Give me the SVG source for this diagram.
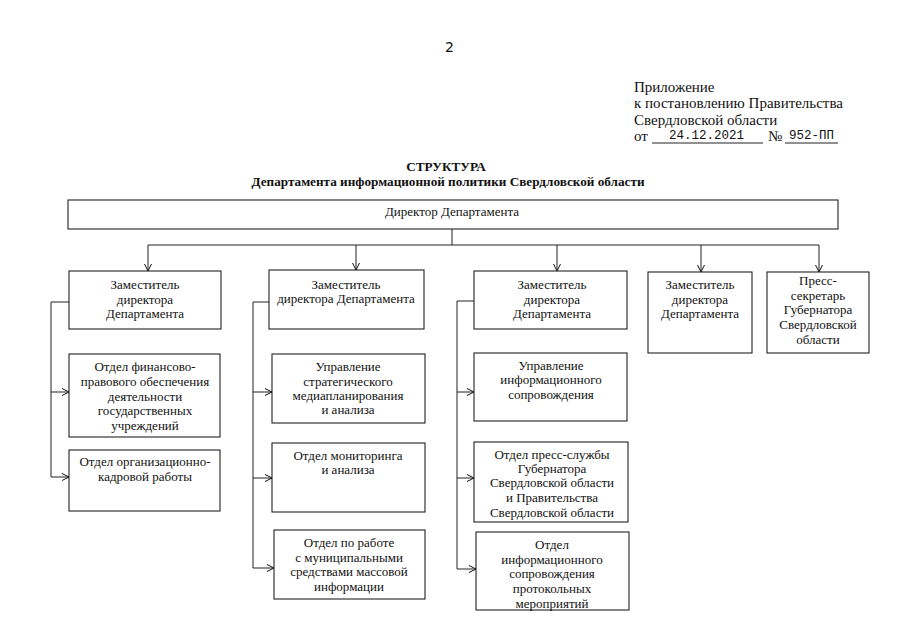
<svg xmlns="http://www.w3.org/2000/svg" width="905" height="640" viewBox="0 0 905 640">
<defs>
<marker id="arr" viewBox="0 0 8 8" refX="7.5" refY="4" markerWidth="8" markerHeight="8" markerUnits="userSpaceOnUse" orient="auto">
<path d="M0.5,0.5 L7.5,4 L0.5,7.5" fill="none" stroke="#111" stroke-width="1"/>
</marker>
<style>
.box{fill:#fff;stroke:#222;stroke-width:1.1}
.t{font-family:"Liberation Serif","Times New Roman",serif;font-size:13px;fill:#111;text-anchor:middle}
.h{font-family:"Liberation Serif","Times New Roman",serif;font-size:15px;fill:#111}
.m{font-family:"Liberation Mono","Courier New",monospace;font-size:12.5px;fill:#111}
.b{font-family:"Liberation Serif","Times New Roman",serif;font-size:13.2px;font-weight:bold;fill:#111;text-anchor:middle}
.c{fill:none;stroke:#222;stroke-width:1}
.a{fill:none;stroke:#222;stroke-width:1;marker-end:url(#arr)}
</style>
</defs>
<rect width="905" height="640" fill="#fff"/>

<g id="header">
<text x="445" y="52" font-family="DejaVu Sans, sans-serif" font-size="14" fill="#111">2</text>
<text class="h" x="634" y="92">Приложение</text>
<text class="h" x="634" y="108">к постановлению Правительства</text>
<text class="h" x="634" y="125">Свердловской области</text>
<text class="h" x="634" y="141">от</text>
<text class="m" x="669" y="139">24.12.2021</text>
<line x1="652" y1="143" x2="763" y2="143" stroke="#222" stroke-width="1"/>
<text class="h" x="768" y="141">№</text>
<text class="m" x="789" y="139">952-ПП</text>
<line x1="785" y1="143" x2="838" y2="143" stroke="#222" stroke-width="1"/>
<text class="b" x="446" y="171">СТРУКТУРА</text>
<text class="b" x="448" y="186">Департамента информационной политики Свердловской области</text>
</g>

<g id="connectors">
<polyline class="c" points="452,229 452,245"/>
<polyline class="c" points="148,245 819,245"/>
<polyline class="a" points="148,245 148,271"/>
<polyline class="a" points="356,245 356,270"/>
<polyline class="a" points="557,245 557,271"/>
<polyline class="a" points="701,245 701,272"/>
<polyline class="a" points="819,245 819,272"/>

<polyline class="c" points="69,302 51,302 51,477"/>
<polyline class="a" points="51,392 69,392"/>
<polyline class="a" points="51,477 69,477"/>

<polyline class="c" points="269,302 253,302 253,568"/>
<polyline class="a" points="253,392 272,392"/>
<polyline class="a" points="253,478 272,478"/>
<polyline class="a" points="253,568 274,568"/>

<polyline class="c" points="474,301 457,301 457,569"/>
<polyline class="a" points="457,392 474,392"/>
<polyline class="a" points="457,478 474,478"/>
<polyline class="a" points="457,569 476,569"/>
</g>

<g id="director">
<rect class="box" x="68" y="200" width="770" height="29"/>
<text class="t" x="452" y="216">Директор Департамента</text>
</g>

<g id="deputy1">
<rect class="box" x="69" y="271" width="152" height="58"/>
<text class="t" x="145" y="289">Заместитель</text>
<text class="t" x="145" y="304">директора</text>
<text class="t" x="145" y="318">Департамента</text>
</g>

<g id="deputy2">
<rect class="box" x="269" y="270" width="155" height="59"/>
<text class="t" x="346" y="289">Заместитель</text>
<text class="t" x="346" y="303">директора Департамента</text>
</g>

<g id="deputy3">
<rect class="box" x="474" y="271" width="153" height="58"/>
<text class="t" x="552" y="289">Заместитель</text>
<text class="t" x="552" y="304">директора</text>
<text class="t" x="552" y="318">Департамента</text>
</g>

<g id="deputy4">
<rect class="box" x="648" y="272" width="104" height="81"/>
<text class="t" x="700" y="289">Заместитель</text>
<text class="t" x="700" y="304">директора</text>
<text class="t" x="700" y="318">Департамента</text>
</g>

<g id="press_secretary">
<rect class="box" x="767" y="272" width="102" height="81"/>
<text class="t" x="818" y="285">Пресс-</text>
<text class="t" x="818" y="300">секретарь</text>
<text class="t" x="818" y="314">Губернатора</text>
<text class="t" x="818" y="329">Свердловской</text>
<text class="t" x="818" y="344">области</text>
</g>

<g id="fin_dept">
<rect class="box" x="69" y="354" width="151" height="83"/>
<text class="t" x="145" y="371">Отдел финансово-</text>
<text class="t" x="145" y="386">правового обеспечения</text>
<text class="t" x="145" y="401">деятельности</text>
<text class="t" x="145" y="415">государственных</text>
<text class="t" x="145" y="430">учреждений</text>
</g>

<g id="hr_dept">
<rect class="box" x="69" y="450" width="151" height="61"/>
<text class="t" x="145" y="466">Отдел организационно-</text>
<text class="t" x="145" y="481">кадровой работы</text>
</g>

<g id="strategy_dept">
<rect class="box" x="272" y="354" width="153" height="69"/>
<text class="t" x="348" y="371">Управление</text>
<text class="t" x="348" y="386">стратегического</text>
<text class="t" x="348" y="400">медиапланирования</text>
<text class="t" x="348" y="414">и анализа</text>
</g>

<g id="monitoring_dept">
<rect class="box" x="272" y="443" width="153" height="69"/>
<text class="t" x="348" y="460">Отдел мониторинга</text>
<text class="t" x="348" y="474">и анализа</text>
</g>

<g id="municipal_media_dept">
<rect class="box" x="274" y="530" width="151" height="69"/>
<text class="t" x="349" y="547">Отдел по работе</text>
<text class="t" x="349" y="562">с муниципальными</text>
<text class="t" x="349" y="576">средствами массовой</text>
<text class="t" x="349" y="591">информации</text>
</g>

<g id="info_support_dept">
<rect class="box" x="474" y="353" width="153" height="68"/>
<text class="t" x="551" y="370">Управление</text>
<text class="t" x="551" y="384">информационного</text>
<text class="t" x="551" y="399">сопровождения</text>
</g>

<g id="press_service_dept">
<rect class="box" x="474" y="442" width="154" height="80"/>
<text class="t" x="552" y="459">Отдел пресс-службы</text>
<text class="t" x="552" y="473">Губернатора</text>
<text class="t" x="552" y="487">Свердловской области</text>
<text class="t" x="552" y="502">и Правительства</text>
<text class="t" x="552" y="517">Свердловской области</text>
</g>

<g id="protocol_dept">
<rect class="box" x="476" y="532" width="153" height="78"/>
<text class="t" x="552" y="549">Отдел</text>
<text class="t" x="552" y="564">информационного</text>
<text class="t" x="552" y="578">сопровождения</text>
<text class="t" x="552" y="593">протокольных</text>
<text class="t" x="552" y="608">мероприятий</text>
</g>
</svg>
